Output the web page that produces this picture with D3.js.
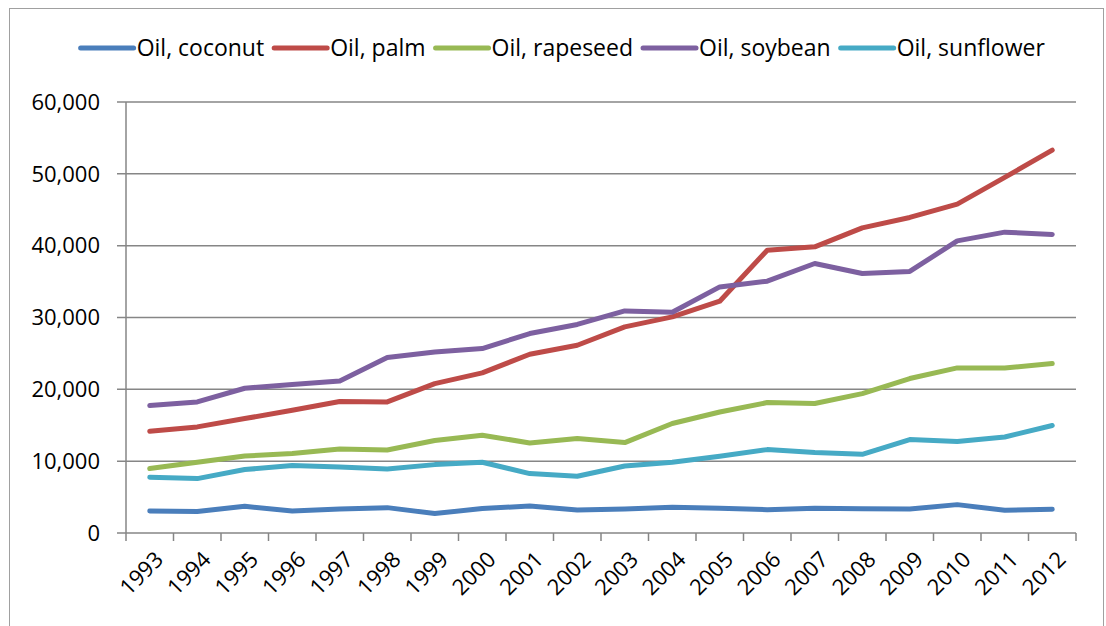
<!DOCTYPE html>
<html>
<head>
<meta charset="utf-8">
<script src="https://cdn.jsdelivr.net/npm/d3@7"></script>
<style>
  body { margin: 0; background: #fff; }
  text { font-family: "Open Sans", sans-serif; fill: #000; }
</style>
</head>
<body>
<div id="chart"></div>
<script>
const years = ["1993","1994","1995","1996","1997","1998","1999","2000","2001","2002",
  "2003","2004","2005","2006","2007","2008","2009","2010","2011","2012"];
const yTicks = [0, 10000, 20000, 30000, 40000, 50000, 60000];

const coconut = [3060, 3000, 3720, 3060, 3340, 3530, 2700, 3400, 3770, 3200,
  3350, 3600, 3440, 3250, 3440, 3390, 3340, 3950, 3160, 3300];
const palm = [14160, 14770, 15930, 17090, 18300, 18250, 20800, 22290, 24890, 26140,
  28690, 30090, 32270, 39370, 39840, 42480, 43930, 45780, 49500, 53300];
const rapeseed = [8970, 9850, 10720, 11060, 11700, 11560, 12870, 13610, 12540, 13150,
  12590, 15240, 16850, 18160, 18020, 19410, 21500, 22980, 22980, 23590];
const soybean = [17740, 18250, 20150, 20670, 21170, 24430, 25210, 25680, 27770, 29030,
  30920, 30740, 34260, 35060, 37520, 36130, 36410, 40670, 41880, 41560];
const sunflower = [7760, 7570, 8830, 9390, 9190, 8910, 9520, 9850, 8270, 7900,
  9330, 9850, 10680, 11610, 11200, 10960, 13010, 12730, 13370, 14960];

const seriesNames = ["Oil, coconut", "Oil, palm", "Oil, rapeseed", "Oil, soybean", "Oil, sunflower"];
const seriesValues = [coconut, palm, rapeseed, soybean, sunflower];
const colors = ["#4a7ebb", "#be4b48", "#98b954", "#7d60a0", "#46aac5"];

const width = 1106;
const height = 626;
const plot = { left: 126, right: 1076, top: 102, bottom: 533 };
const axisColor = "#868686";

const svg = d3.select("#chart").append("svg")
  .attr("width", width)
  .attr("height", height);

// chart frame
svg.append("rect")
  .attr("x", 9.5).attr("y", 8.5)
  .attr("width", 1094).attr("height", 640)
  .attr("fill", "none")
  .attr("stroke", "#a0a0a0")
  .attr("stroke-width", 1);

const x = d3.scaleBand().domain(years).range([plot.left, plot.right]);
const y = d3.scaleLinear().domain([0, 60000]).range([plot.bottom, plot.top]);

// gridlines
svg.append("g")
  .selectAll("line")
  .data(yTicks)
  .join("line")
  .attr("x1", plot.left - 9)
  .attr("x2", plot.right)
  .attr("y1", (d) => y(d))
  .attr("y2", (d) => y(d))
  .attr("stroke", axisColor)
  .attr("stroke-width", 1.5);

// y labels
svg.append("g")
  .selectAll("text")
  .data(yTicks)
  .join("text")
  .attr("x", plot.left - 26)
  .attr("y", (d) => y(d))
  .attr("dy", "0.35em")
  .attr("text-anchor", "end")
  .style("font-size", "22px")
  .text((d) => d3.format(",")(d));

// y axis line
svg.append("line")
  .attr("x1", plot.left).attr("x2", plot.left)
  .attr("y1", plot.top).attr("y2", plot.bottom)
  .attr("stroke", axisColor)
  .attr("stroke-width", 1.5);

// x axis ticks at category boundaries
const bounds = years.map((d) => x(d)).concat([plot.right]);
svg.append("g")
  .selectAll("line")
  .data(bounds)
  .join("line")
  .attr("x1", (d) => d)
  .attr("x2", (d) => d)
  .attr("y1", plot.bottom)
  .attr("y2", plot.bottom + 8)
  .attr("stroke", axisColor)
  .attr("stroke-width", 1.5);

// x labels
svg.append("g")
  .selectAll("text")
  .data(years)
  .join("text")
  .attr("transform", (d) => {
    const cx = x(d) + x.bandwidth() / 2 + 4;
    return `translate(${cx},${plot.bottom + 17}) rotate(-45)`;
  })
  .attr("text-anchor", "end")
  .attr("dy", "0.7em")
  .style("font-size", "22px")
  .text((d) => d);

// series lines
const line = d3.line()
  .x((d, i) => x(years[i]) + x.bandwidth() / 2)
  .y((d) => y(d));

svg.append("g")
  .selectAll("path")
  .data(seriesValues)
  .join("path")
  .attr("d", (d) => line(d))
  .attr("fill", "none")
  .attr("stroke", (d, i) => colors[i])
  .attr("stroke-width", 5)
  .attr("stroke-linejoin", "round")
  .attr("stroke-linecap", "round");

// legend
const legend = svg.append("g");
const items = legend.selectAll("g")
  .data(seriesNames)
  .join("g");

items.append("line")
  .attr("x1", 2).attr("x2", 55)
  .attr("y1", 0).attr("y2", 0)
  .attr("stroke", (d, i) => colors[i])
  .attr("stroke-width", 5)
  .attr("stroke-linecap", "round");

items.append("text")
  .attr("x", 58)
  .attr("y", 0)
  .attr("dy", "0.35em")
  .style("font-size", "23px")
  .text((d) => d);

let offset = 0;
items.each(function () {
  const w = this.getBBox().width;
  d3.select(this).attr("transform", `translate(${offset},48)`);
  offset += w + 10;
});
const total = offset - 10;
legend.attr("transform", `translate(${561 - total / 2},0)`);
</script>
</body>
</html>
